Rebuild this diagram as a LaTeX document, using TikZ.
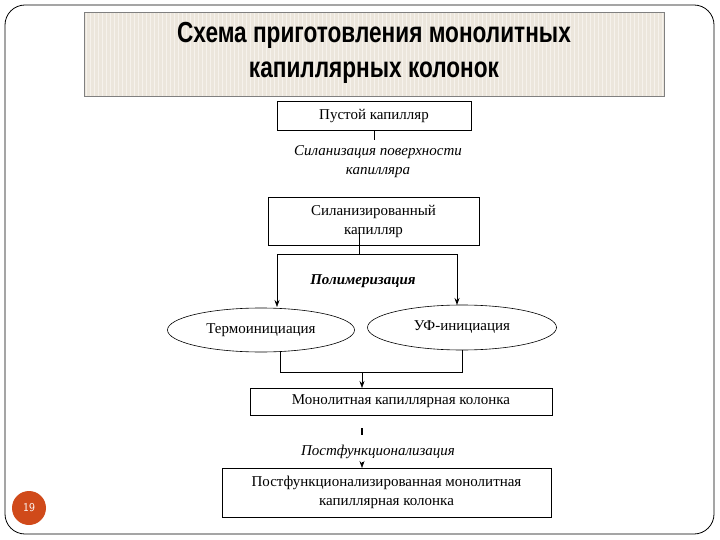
\documentclass[tikz,border=0pt]{standalone}
\usepackage{fontspec}
\setmainfont{Liberation Serif}
\newfontfamily\titlefont{Liberation Sans}
\usetikzlibrary{shapes.geometric,arrows.meta}
\definecolor{beige}{RGB}{236,230,220}
\definecolor{stripe}{RGB}{246,242,236}
\definecolor{pgorange}{RGB}{208,74,26}
\begin{document}
\begin{tikzpicture}[x=1pt,y=-1pt,
  box/.style={draw,line width=0.6pt,fill=white,align=center,inner sep=0pt,font=\fontsize{15}{19}\selectfont},
  ell/.style={draw,ellipse,line width=0.6pt,fill=white,inner sep=0pt,font=\fontsize{15}{19}\selectfont},
  lbl/.style={align=center,font=\fontsize{15}{19}\selectfont\itshape},
  ln/.style={line width=0.6pt},
  arr/.style={line width=0.6pt,-{Stealth[length=7pt,width=5pt]}}]
\useasboundingbox (0,0) rectangle (720,540);
\draw[line width=0.8pt,rounded corners=20pt] (5,5) rectangle (714,534);
\fill[beige] (84,12) rectangle (664,96);
\foreach \i in {0,...,144} {\draw[stripe,line width=1pt] ({86+4*\i},12) -- ({86+4*\i},96);}
\draw[gray,line width=0.6pt] (84,12) rectangle (664,96);
\node[font=\titlefont\bfseries\fontsize{29}{35}\selectfont,align=center] (title) at (374,53)
  {\scalebox{0.78}[1]{Схема приготовления монолитных}\\\scalebox{0.78}[1]{капиллярных колонок}};
\node[box,minimum width=194pt,minimum height=29pt] (b1) at (374,115.5) {Пустой капилляр};
\node[lbl] (s1) at (378,162) {Силанизация поверхности\\капилляра};
\node[box,minimum width=211pt,minimum height=48pt] (b2) at (373.5,221) {Силанизированный\\капилляр};
\node[lbl,font=\fontsize{15}{19}\selectfont\bfseries\itshape] (p) at (363,281) {Полимеризация};
\node[ell,minimum width=187pt,minimum height=44pt] (e1) at (261,330) {Термоинициация};
\node[ell,minimum width=189pt,minimum height=45pt] (e2) at (462,327.5) {УФ-инициация};
\node[box,minimum width=302pt,minimum height=27pt] (b3) at (401,401.5) {Монолитная капиллярная колонка};
\node[lbl] (s2) at (378,452) {Постфункционализация};
\node[box,minimum width=329pt,minimum height=49pt] (b4) at (386.5,492.5) {Постфункционализированная монолитная\\капиллярная колонка};
\node[circle,fill=pgorange,minimum size=34pt,inner sep=0pt,text=white,font=\sffamily\fontsize{12}{14}\selectfont] (pg) at (29,508) {19};
\draw[ln] (b1.south) -- ++(0,10);
\draw[ln] (359,232) -- (359,254);
\coordinate (l) at (277,254); \coordinate (r) at (457,254);
\coordinate (a3) at (362,388); \coordinate (a4) at (362,468);
\draw[ln] (l) -- (r);
\draw[arr] (l) -- (277,307);
\draw[arr,line width=1pt] (r) -- (457,305);
\draw[ln] (280,352) -- (280,372) -- (462,372) -- (462,350);
\draw[arr] (362,372) -- (a3);
\draw[ln,line width=1.2pt] (362,428) -- (362,435);
\draw[arr] (362,462) -- (a4);
\end{tikzpicture}
\end{document}
